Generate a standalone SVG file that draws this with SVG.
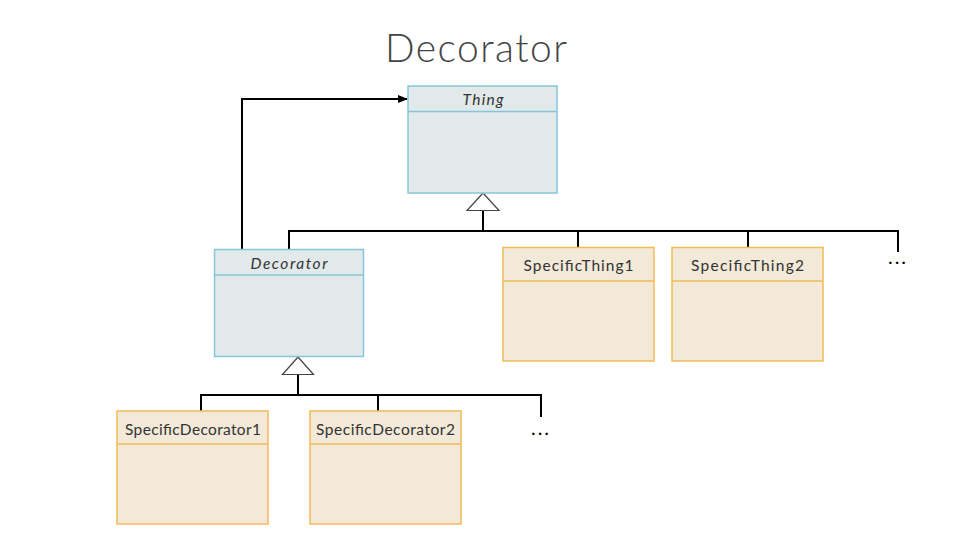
<svg xmlns="http://www.w3.org/2000/svg" width="953" height="540" viewBox="0 0 953 540">
<defs>
<style>
.title{font-family:"Lato","Open Sans",sans-serif;font-weight:300;font-size:39px;fill:#444;}
.lbl{font-family:"Lato","Open Sans",sans-serif;font-size:15.5px;fill:#333;}
.it{font-style:italic;}
.blue{fill:#e1e9ea;stroke:#86c6d9;stroke-width:1.5;}
.org{fill:#f2e9d8;stroke:#f1bb55;stroke-width:1.5;}
.bdiv{stroke:#86c6d9;stroke-width:1.5;}
.odiv{stroke:#f1bb55;stroke-width:1.5;}
.ln{fill:none;stroke:#000;stroke-width:2;}
.tri{fill:#fff;stroke:#444;stroke-width:1.2;}
.dots{font-family:"Lato","Open Sans",sans-serif;font-size:20px;fill:#000;letter-spacing:2px;}
</style>
<marker id="arr" markerWidth="10" markerHeight="10" refX="9" refY="5" orient="auto" markerUnits="userSpaceOnUse">
<path d="M0,1 L10,5 L0,9 Z" fill="#000"/>
</marker>
</defs>
<rect width="953" height="540" fill="#fff"/>
<text class="title" x="476" y="62" text-anchor="middle" textLength="182" lengthAdjust="spacing">Decorator</text>
<g id="connectors">
<path class="ln" d="M242,249 V99 H407" marker-end="url(#arr)"/>
<path class="ln" d="M483,210 V231"/>
<path class="ln" d="M289,249 V231 H898 V252"/>
<path class="ln" d="M578,231 V248"/>
<path class="ln" d="M748,231 V248"/>
<polygon class="tri" points="483,193 467,210.5 499,210.5"/>
<path class="ln" d="M298,374 V395"/>
<path class="ln" d="M201,411 V395 H541 V417"/>
<path class="ln" d="M378,395 V411"/>
<polygon class="tri" points="298,357 282.5,374.5 313.5,374.5"/>
</g>
<g id="thing">
<rect class="blue" x="408" y="86" width="149" height="107"/>
<line class="bdiv" x1="408" y1="111.5" x2="557" y2="111.5"/>
<text class="lbl it" x="483" y="105" text-anchor="middle" textLength="41" lengthAdjust="spacing">Thing</text>
</g>
<g id="decorator">
<rect class="blue" x="214.5" y="249.5" width="149" height="107"/>
<line class="bdiv" x1="214.5" y1="275" x2="363.5" y2="275"/>
<text class="lbl it" x="289" y="269" text-anchor="middle" textLength="77" lengthAdjust="spacing">Decorator</text>
</g>
<g id="specificThing1">
<rect class="org" x="503" y="247.5" width="151" height="113.5"/>
<line class="odiv" x1="503" y1="281" x2="654" y2="281"/>
<text class="lbl" x="578.5" y="271" text-anchor="middle" textLength="110" lengthAdjust="spacing">SpecificThing1</text>
</g>
<g id="specificThing2">
<rect class="org" x="672" y="247.5" width="151" height="113.5"/>
<line class="odiv" x1="672" y1="281" x2="823" y2="281"/>
<text class="lbl" x="747.5" y="271" text-anchor="middle" textLength="113" lengthAdjust="spacing">SpecificThing2</text>
</g>
<g id="ellipsis1">
<text class="dots" x="898" y="264" text-anchor="middle">...</text>
</g>
<g id="specificDecorator1">
<rect class="org" x="117" y="411" width="151" height="113"/>
<line class="odiv" x1="117" y1="444" x2="268" y2="444"/>
<text class="lbl" x="193" y="435" text-anchor="middle" textLength="136" lengthAdjust="spacing">SpecificDecorator1</text>
</g>
<g id="specificDecorator2">
<rect class="org" x="310" y="411" width="151" height="113"/>
<line class="odiv" x1="310" y1="444" x2="461" y2="444"/>
<text class="lbl" x="385.5" y="435" text-anchor="middle" textLength="139" lengthAdjust="spacing">SpecificDecorator2</text>
</g>
<g id="ellipsis2">
<text class="dots" x="541" y="435" text-anchor="middle">...</text>
</g>
</svg>
